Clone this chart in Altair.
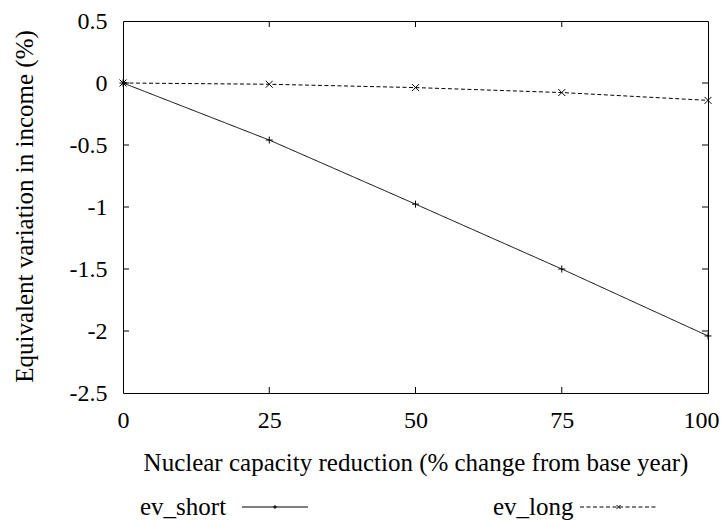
import altair as alt
import pandas as pd

reduction = [0, 25, 50, 75, 100]
ev_short = [0.0, -0.46, -0.977, -1.50, -2.04]
ev_long = [0.0, -0.01, -0.037, -0.077, -0.14]
series_names = ["ev_short", "ev_long"]
x_ticks = [0, 25, 50, 75, 100]
y_ticks = [0.5, 0, -0.5, -1, -1.5, -2, -2.5]

W, H = 585, 372
FONT = "Liberation Serif"
FS = 24      # tick labels
FT = 25      # axis titles and legend

df = pd.DataFrame({
    "x": reduction * 2,
    "y": ev_short + ev_long,
    "series": ["ev_short"] * len(reduction) + ["ev_long"] * len(reduction),
})

PLUS = "M-1,0L1,0M0,-1L0,1"
CROSS = "M-1,-1L1,1M-1,1L1,-1"

xscale = alt.Scale(domain=[0, 100], nice=False, zero=False)
yscale = alt.Scale(domain=[-2.5, 0.5], nice=False, zero=False)

xaxis = alt.Axis(values=x_ticks, ticks=False, tickSize=0, domain=False, grid=False,
                 labelBaseline="alphabetic", labelPadding=34, labelFont=FONT, labelFontSize=FS,
                 labelColor="black", labelFlush=False,
                 labelOffset={"condition": {"test": "datum.value == 100", "value": -7}, "value": 0},
                 title="Nuclear capacity reduction (% change from base year)",
                 titleFont=FONT, titleFontSize=FT, titleFontWeight="normal", titleColor="black",
                 titleBaseline="alphabetic", titleY=77)
yaxis = alt.Axis(values=y_ticks, ticks=False, tickSize=0, domain=False, grid=False,
                 labelPadding=16, labelFont=FONT, labelFontSize=FS, labelColor="black",
                 labelFlush=False, labelExpr="'' + datum.value",
                 title="Equivalent variation in income (%)",
                 titleFont=FONT, titleFontSize=FT, titleFontWeight="normal", titleColor="black",
                 titleBaseline="alphabetic", titleAngle=270, titleX=-91, titleY=H / 2 - 1)

dash_scale = alt.Scale(domain=series_names, range=[[1, 0], [4, 2.5]])
shape_scale = alt.Scale(domain=series_names, range=[PLUS, CROSS])

lines = alt.Chart(df).mark_line(color="black", strokeWidth=1).encode(
    x=alt.X("x:Q", scale=xscale, axis=xaxis),
    y=alt.Y("y:Q", scale=yscale, axis=yaxis),
    strokeDash=alt.StrokeDash("series:N", scale=dash_scale, legend=None),
    detail="series:N",
)
points = alt.Chart(df).mark_point(filled=False, color="black", strokeWidth=1, size=49, opacity=1).encode(
    x=alt.X("x:Q", scale=xscale),
    y=alt.Y("y:Q", scale=yscale),
    shape=alt.Shape("series:N", scale=shape_scale, legend=None),
)

xt = pd.DataFrame({"v": x_ticks[1:-1]})
yt = pd.DataFrame({"v": y_ticks[1:-1]})
tick_style = dict(color="black", strokeWidth=1)
bottom_ticks = alt.Chart(xt).mark_rule(**tick_style).encode(
    x=alt.X("v:Q", scale=xscale), y=alt.value(H), y2=alt.value(H - 6))
top_ticks = alt.Chart(xt).mark_rule(**tick_style).encode(
    x=alt.X("v:Q", scale=xscale), y=alt.value(0), y2=alt.value(6))
left_ticks = alt.Chart(yt).mark_rule(**tick_style).encode(
    y=alt.Y("v:Q", scale=yscale), x=alt.value(0), x2=alt.value(6))
right_ticks = alt.Chart(yt).mark_rule(**tick_style).encode(
    y=alt.Y("v:Q", scale=yscale), x=alt.value(W), x2=alt.value(W - 6))

# legend (gnuplot style: label, then line sample with marker)
leg = pd.DataFrame({"series": series_names})
LX0 = 17       # ev_short label left (plot coords)
LX1 = 370      # ev_long label left
LY = 494       # label baseline
SY = 486       # sample line y

def legend_entry(name, lx, sx1, sx2, dash, shape):
    d = leg[leg.series == name]
    txt = alt.Chart(d).mark_text(font=FONT, fontSize=FT, align="left", baseline="alphabetic",
                                 color="black").encode(
        text="series:N", x=alt.value(lx), y=alt.value(LY))
    line = alt.Chart(d).mark_rule(color="black", strokeWidth=1, strokeDash=dash).encode(
        x=alt.value(sx1), x2=alt.value(sx2), y=alt.value(SY))
    pt = alt.Chart(d).mark_point(shape=shape, filled=False, color="black", strokeWidth=1,
                                 size=16, opacity=1).encode(
        x=alt.value((sx1 + sx2) / 2), y=alt.value(SY))
    return txt + line + pt

leg1 = legend_entry("ev_short", LX0, 119, 185, [1, 0], PLUS)
leg2 = legend_entry("ev_long", LX1, 457, 534, [4, 2.5], CROSS)

chart = alt.layer(
    lines, points, bottom_ticks, top_ticks, left_ticks, right_ticks, leg1, leg2
).properties(
    width=W, height=H,
    autosize=alt.AutoSizeParams(type="none"),
    padding={"left": 115, "top": 13, "right": 12, "bottom": 128},
).configure(
    font=FONT, background="white"
).configure_view(
    stroke="black", strokeWidth=1, fill="white"
)

chart.save("out.html", embed_options={"renderer": "svg", "actions": False})
